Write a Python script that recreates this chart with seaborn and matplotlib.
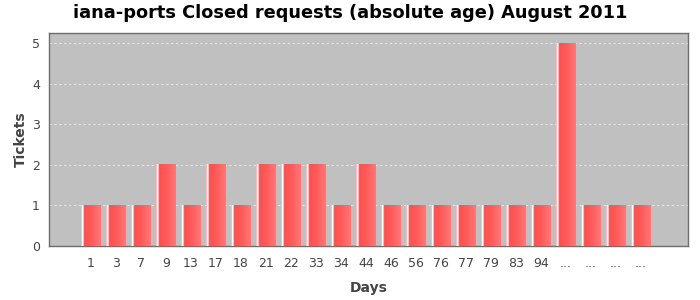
import matplotlib
matplotlib.use("Agg")
import matplotlib.pyplot as plt
import numpy as np
import pandas as pd
import seaborn as sns
from matplotlib.colors import LinearSegmentedColormap

days = ["1", "3", "7", "9", "13", "17", "18", "21", "22", "33", "34", "44",
        "46", "56", "76", "77", "79", "83", "94", "...", "...", "...", "..."]
tickets = [1, 1, 1, 2, 1, 2, 1, 2, 2, 2, 1, 2, 1, 1, 1, 1, 1, 1, 1, 5, 1, 1, 1]

df = pd.DataFrame({"pos": [str(i) for i in range(len(days))], "tickets": tickets})

sns.set_style("white")
plt.rcParams["font.family"] = ["DejaVu Sans"]

fig = plt.figure(figsize=(7, 3), dpi=100)
ax = fig.add_axes([0.07, 0.18, 0.913, 0.71])
ax.set_facecolor("#C0C0C0")

sns.barplot(data=df, x="pos", y="tickets", color="#FF5555", width=0.78,
            saturation=1, ax=ax, zorder=2)

cmap = LinearSegmentedColormap.from_list(
    "g", [(0.0, "#FF9090"), (0.05, "#FFFFFF"), (0.10, "#FFFFFF"), (0.15, "#FF4E4E"),
          (0.55, "#FF5C5C"), (1.0, "#FF7878")])
grad = np.linspace(0, 1, 64).reshape(1, -1)
for p in ax.patches:
    x0, y0 = p.get_x(), p.get_y()
    w, h = p.get_width(), p.get_height()
    p.set_facecolor("none")
    p.set_edgecolor("none")
    ax.imshow(grad, cmap=cmap, aspect="auto", extent=(x0, x0 + w, y0, y0 + h),
              zorder=3, interpolation="bilinear")

ax.set_xlim(-1.68, len(days) - 1 + 1.88)
ax.set_ylim(0, 5.25)
ax.set_yticks([0, 1, 2, 3, 4, 5])
ax.set_xticks(range(len(days)))
ax.set_xticklabels(days)
ax.yaxis.grid(True, color="#E6E6E6", linestyle=(0, (2.5, 2.5)), linewidth=0.7, zorder=1)
ax.set_axisbelow(True)
for s in ax.spines.values():
    s.set_color("#6E6E6E")
    s.set_linewidth(1)
    s.set_visible(True)

ax.tick_params(axis="both", colors="#444444", labelsize=9, length=3,
               width=0.8, direction="out", labelcolor="#444444")
ax.tick_params(axis="x", pad=5)
ax.set_xlabel("Days", fontsize=10, fontweight="bold", color="#444444", labelpad=8)
ax.set_ylabel("Tickets", fontsize=10, fontweight="bold", color="#444444", labelpad=3)

fig.suptitle("iana-ports Closed requests (absolute age) August 2011",
             fontsize=12.8, fontweight="bold", x=0.5, y=0.985, color="black")

fig.savefig("out.png", dpi=100, facecolor="white")
